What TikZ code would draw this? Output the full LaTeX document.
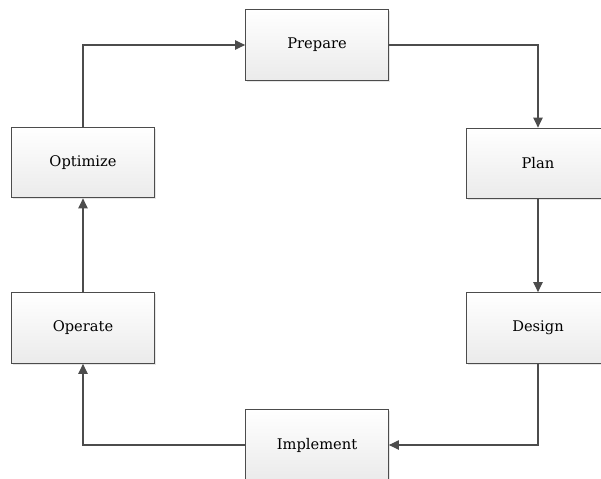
\documentclass[tikz,border=0pt]{standalone}
\usepackage{fontspec}
\setmainfont{DejaVu Serif}
\usetikzlibrary{arrows.meta,shadows}
\tikzset{
  stage/.style={draw=black!70, line width=0.8pt, top color=white, bottom color=black!8,
    minimum width=107pt, minimum height=53pt, inner sep=0pt, text=black,
    font=\fontsize{11}{13}\selectfont,
    drop shadow={opacity=0.2, shadow xshift=1pt, shadow yshift=-1pt}},
  flow/.style={draw=black!70, line width=0.8pt, -{Triangle[length=7.5pt,width=7pt]}}
}

\begin{document}
\begin{tikzpicture}[x=0.75pt, y=-0.75pt]
\useasboundingbox (0,0) rectangle (601,479);
\clip (0,0) rectangle (601,479);
% Boxes
    \node[stage] (prepare)   at (317,45)    {Prepare};
    \node[stage] (plan)      at (538,163.5) {Plan};
    \node[stage] (design)    at (538,328)   {Design};
    \node[stage] (implement) at (317,445)   {Implement};
    \node[stage] (operate)   at (83,328)    {Operate};
    \node[stage] (optimize)  at (83,162.5)  {Optimize};
% Arrows
    \draw[flow] (optimize.north) |- (prepare.west);
    \draw[flow] (prepare.east) -| (plan.north);
    \draw[flow] (plan) -- (design);
    \draw[flow] (design.south) |- (implement.east);
    \draw[flow] (implement.west) -| (operate.south);
    \draw[flow] (operate) -- (optimize);
\end{tikzpicture}
\end{document}
